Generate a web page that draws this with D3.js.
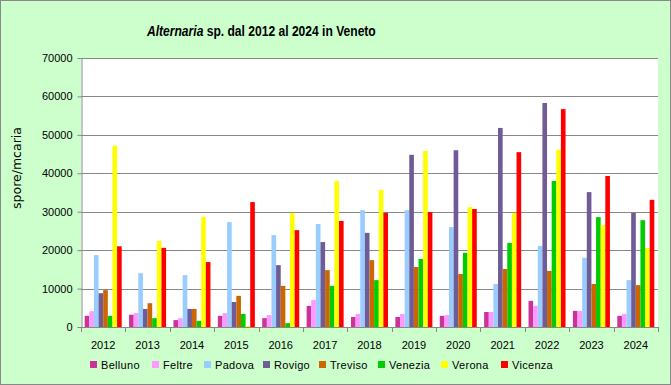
<html>
<head>
<meta charset="utf-8">
<script src="https://d3js.org/d3.v7.min.js"></script>
<style>
    body { margin: 0; background: #ccffcc; }
    text { font-family: "Liberation Sans", Arial, sans-serif; fill: #000; }
</style>
</head>
<body>
<script>
var width = 671,
    height = 385;

// data
var years = ["2012","2013","2014","2015","2016","2017","2018","2019","2020","2021","2022","2023","2024"];
var stations = ["Belluno","Feltre","Padova","Rovigo","Treviso","Venezia","Verona","Vicenza"];
var colors = ["#cc3399","#ff99ff","#99ccff","#6f5b95","#cc6600","#00cc00","#ffff00","#ff0000"];

var belluno = [2900,3200,1800,2900,2300,5500,2600,2600,2900,3900,6800,4200,2900];
var feltre  = [4100,3600,2300,3600,3100,7000,3400,3400,3100,3900,5500,4200,3400];
var padova  = [18700,14000,13500,27300,23900,26800,30400,30400,26000,11200,21100,18000,12200];
var rovigo  = [8800,4700,4700,6500,16100,22100,24500,44800,46000,51800,58300,35100,29700];
var treviso = [9600,6200,4700,8100,10700,14800,17400,15600,13800,15100,14600,11200,10900];
var venezia = [2900,2300,1600,3400,1000,10700,12200,17700,19300,21900,38000,28600,27800];
var verona  = [47200,22400,28600,300,29700,38000,35700,45800,31200,29700,46100,26500,20600];
var vicenza = [21000,20600,16900,32500,25200,27600,29700,29900,30700,45500,56700,39300,33100];
var series = [belluno, feltre, padova, rovigo, treviso, venezia, verona, vicenza];

var yTicks = [0,10000,20000,30000,40000,50000,60000,70000];

var plot = {left: 81, right: 658, top: 58, bottom: 327};

var svg = d3.select("body")
    .append("svg")
    .attr("width", width)
    .attr("height", height);

svg.append("rect")
    .attr("x", 0.5).attr("y", 0.5)
    .attr("width", width - 1).attr("height", height - 1)
    .attr("fill", "#ccffcc")
    .attr("stroke", "#888");

svg.append("rect")
    .attr("x", plot.left).attr("y", plot.top)
    .attr("width", plot.right - plot.left).attr("height", plot.bottom - plot.top)
    .attr("fill", "#fff");

var x0 = d3.scaleBand()
    .domain(years)
    .range([plot.left, plot.right])
    .paddingInner(0.166)
    .paddingOuter(0.083);

var x1 = d3.scaleBand()
    .domain(stations)
    .range([0, x0.bandwidth()]);

var y = d3.scaleLinear()
    .domain([0, 70000])
    .range([plot.bottom, plot.top]);

// gridlines
svg.append("g").selectAll("line")
    .data(yTicks.slice(1))
    .enter().append("line")
    .attr("x1", plot.left).attr("x2", plot.right)
    .attr("y1", d => Math.round(y(d)) + 0.5)
    .attr("y2", d => Math.round(y(d)) + 0.5)
    .attr("stroke", "#888");

// bars
var groups = svg.append("g").selectAll("g")
    .data(years)
    .enter().append("g")
    .attr("transform", d => "translate(" + x0(d) + ",0)");

groups.selectAll("rect")
    .data((d, i) => stations.map((s, j) => ({s: s, v: series[j][i], c: colors[j]})))
    .enter().append("rect")
    .attr("x", d => x1(d.s))
    .attr("width", x1.bandwidth())
    .attr("y", d => y(d.v))
    .attr("height", d => plot.bottom - y(d.v))
    .attr("fill", d => d.c);

// y axis
var yAxis = svg.append("g")
    .attr("transform", "translate(" + (plot.left + 0.5) + ",0)")
    .call(d3.axisLeft(y).tickValues(yTicks).tickSize(4).tickSizeOuter(0).tickFormat(d3.format("d")));
yAxis.select(".domain").attr("stroke", "#888");
yAxis.selectAll(".tick line").attr("stroke", "#888");
yAxis.selectAll("text").attr("font-size", 11).attr("x", -9).attr("font-family", "Liberation Sans, Arial, sans-serif");

// x axis: ticks between categories
var step = x0.step();
var xa = svg.append("g");
xa.append("line")
    .attr("x1", plot.left).attr("x2", plot.right)
    .attr("y1", plot.bottom + 0.5).attr("y2", plot.bottom + 0.5)
    .attr("stroke", "#888");
xa.selectAll("line.tk")
    .data(d3.range(years.length + 1))
    .enter().append("line")
    .attr("class", "tk")
    .attr("x1", i => Math.round(plot.left + i * step) + 0.5)
    .attr("x2", i => Math.round(plot.left + i * step) + 0.5)
    .attr("y1", plot.bottom).attr("y2", plot.bottom + 5)
    .attr("stroke", "#888");
xa.selectAll("text")
    .data(years)
    .enter().append("text")
    .attr("x", d => x0(d) + x0.bandwidth() / 2)
    .attr("y", 349)
    .attr("text-anchor", "middle")
    .attr("font-size", 11)
    .text(d => d);

// title, squeezed horizontally like the narrow original font
var title = svg.append("g")
    .attr("transform", "translate(147,36) scale(0.78,1)")
    .append("text")
    .attr("font-size", 15.5)
    .attr("font-weight", "bold");
title.append("tspan").attr("font-style", "italic").text("Alternaria");
title.append("tspan").text(" sp. dal 2012 al 2024 in Veneto");

// y label
svg.append("text")
    .attr("transform", "translate(21,168) rotate(-90)")
    .attr("text-anchor", "middle")
    .attr("font-size", 12.5)
    .style("font-family", "DejaVu Sans, sans-serif")
    .text("spore/mcaria");

// legend
var legendX = [90, 152, 204, 263, 319, 378, 441, 501];
var legend = svg.append("g").selectAll("g")
    .data(stations)
    .enter().append("g")
    .attr("transform", (d, i) => "translate(" + legendX[i] + ",361)");
legend.append("rect")
    .attr("width", 7).attr("height", 7)
    .attr("fill", (d, i) => colors[i]);
legend.append("text")
    .attr("x", 11).attr("y", 7.5)
    .attr("font-size", 11)
    .attr("letter-spacing", 0.3)
    .text(d => d);
</script>
</body>
</html>
